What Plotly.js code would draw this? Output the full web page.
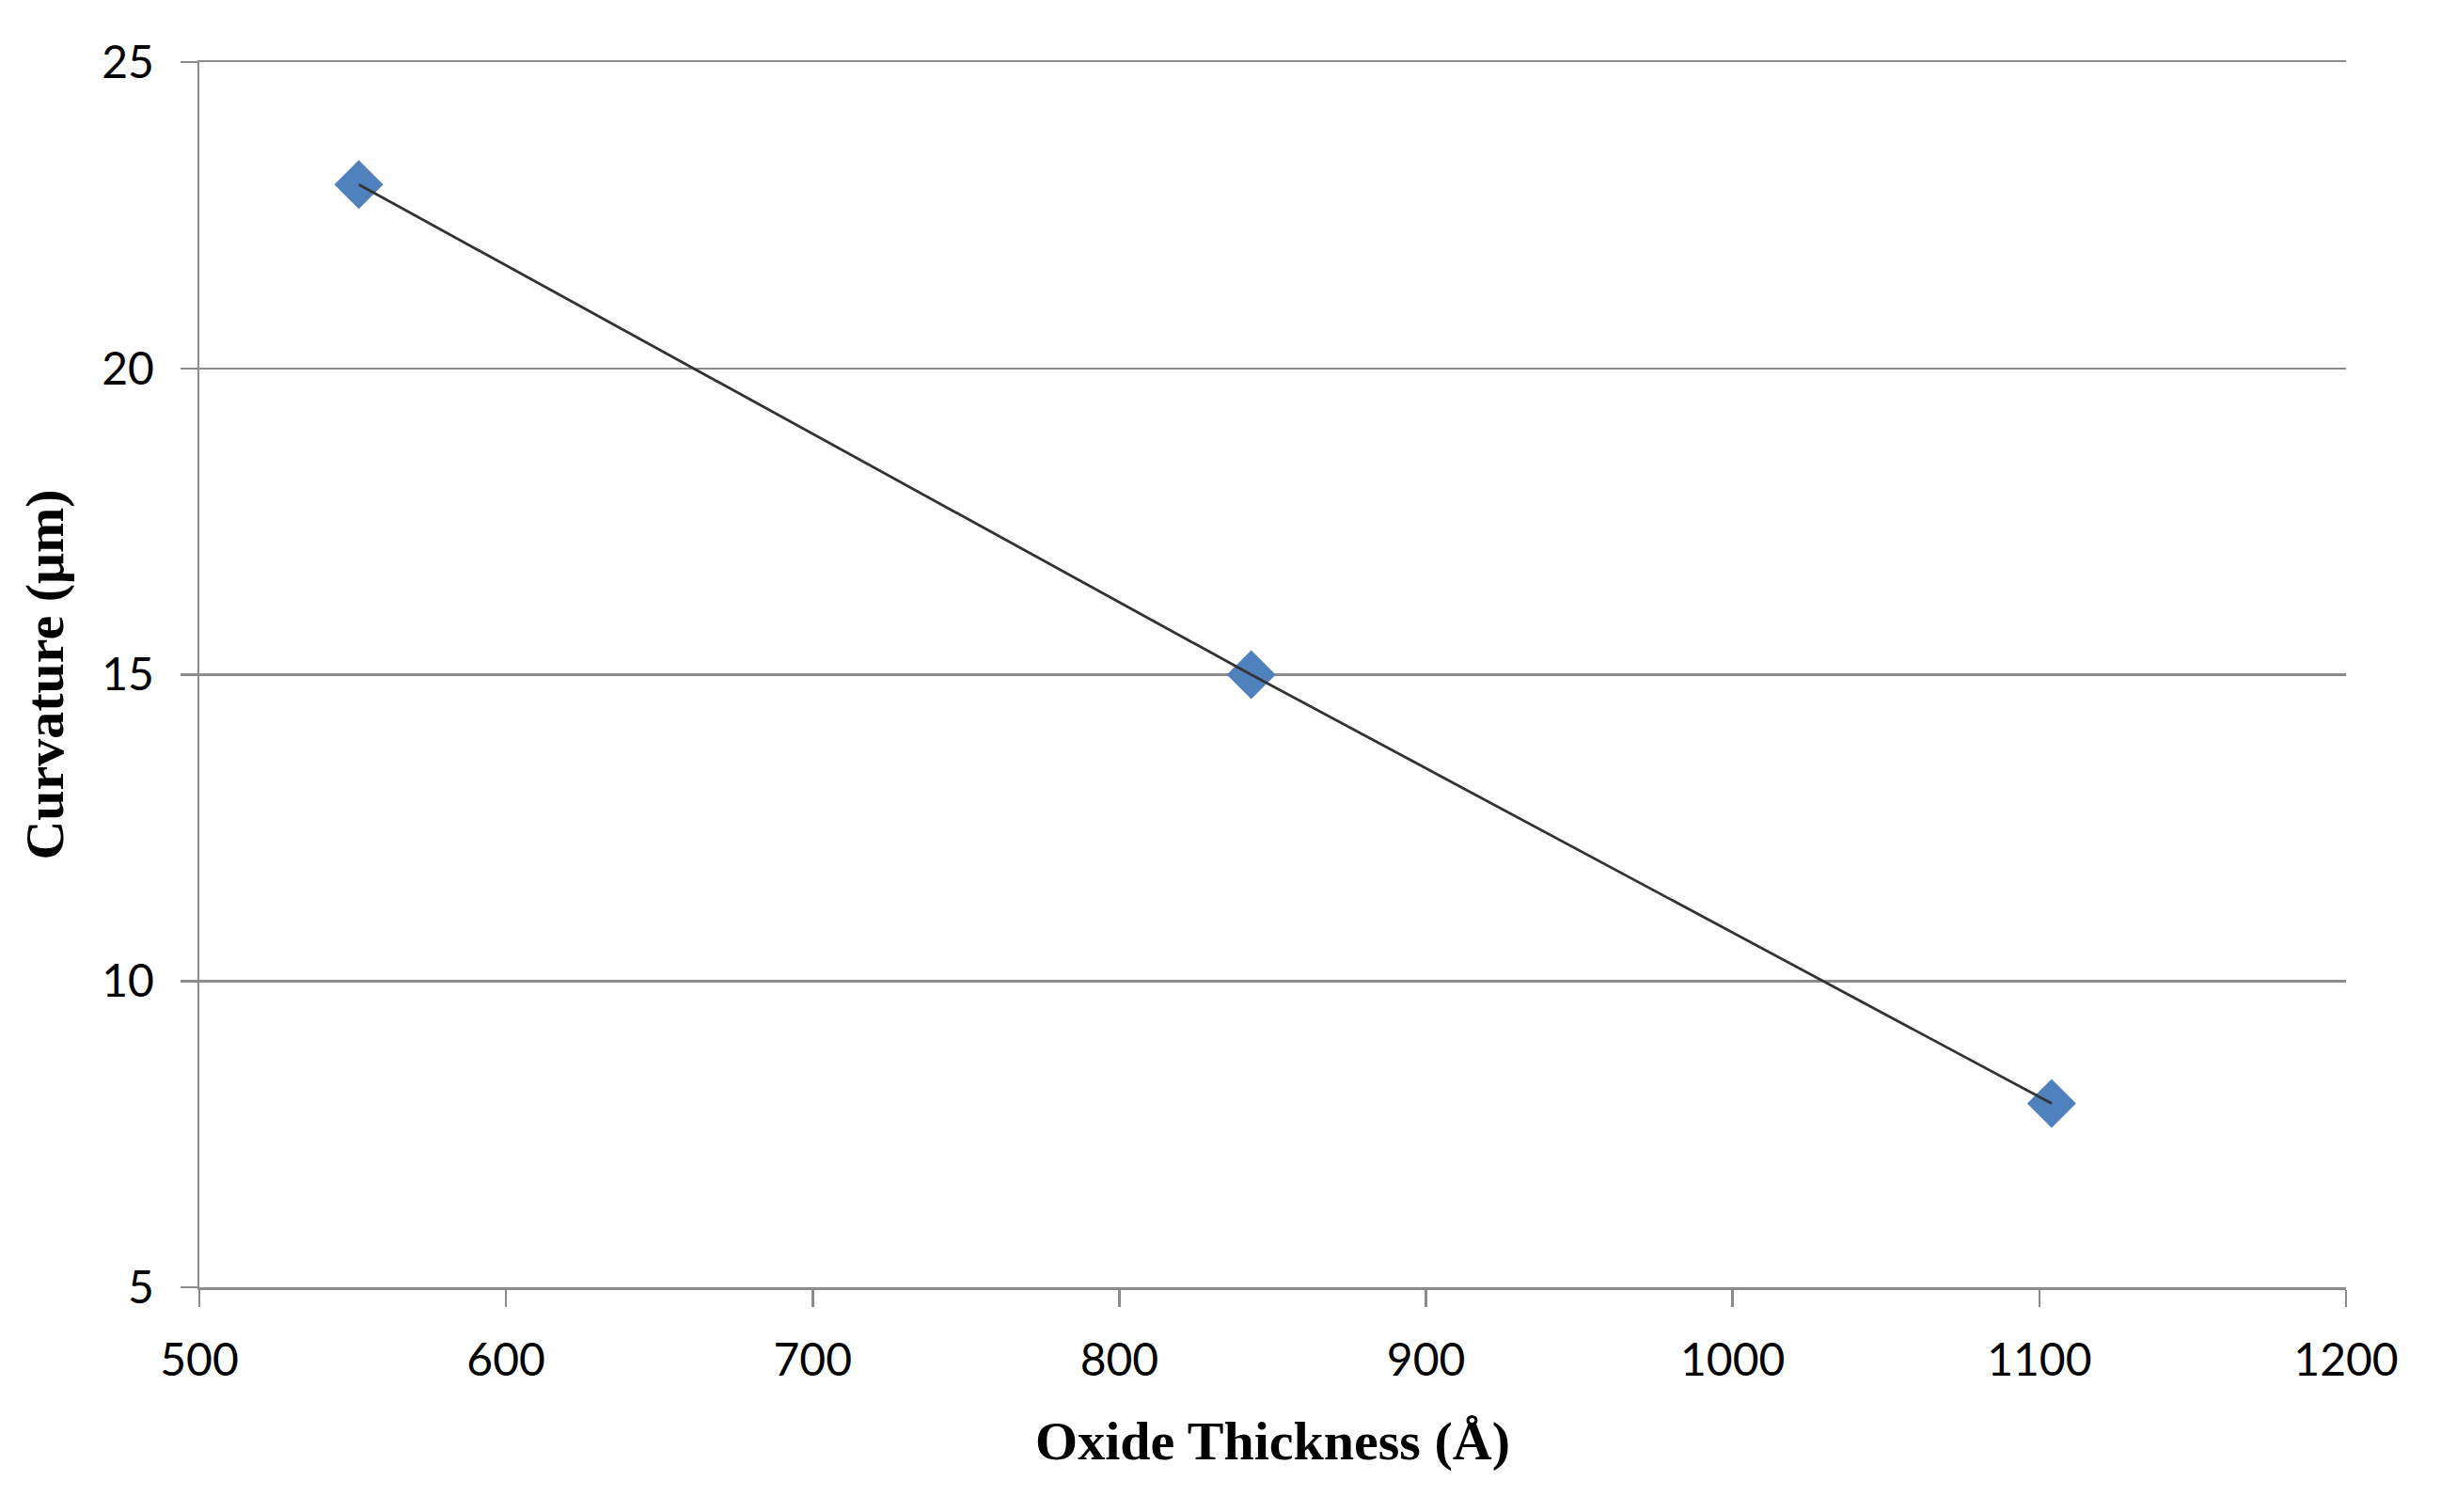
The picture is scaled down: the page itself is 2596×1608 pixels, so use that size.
<!DOCTYPE html>
<html>
<head>
<meta charset="utf-8">
<script src="https://cdn.plot.ly/plotly-3.0.1.min.js"></script>
<style>html,body{margin:0;padding:0;background:#fff;}#chart{width:2596px;height:1608px;}</style>
</head>
<body>
<div id="chart"></div>
<script>
const thickness = [552, 843, 1104];
const curvature = [23, 15, 8];
const xTicks = [500, 600, 700, 800, 900, 1000, 1100, 1200];
const yTicks = [5, 10, 15, 20, 25];

const tickFont = {family: 'Lato, "Open Sans", sans-serif', size: 48, color: '#000'};
const titleFont = {family: '"Liberation Serif", "Times New Roman", serif', size: 58, color: '#000', weight: 'bold'};
const axisGray = '#8c8c8c';

const traces = [
  {
    x: thickness, y: curvature, type: 'scatter', mode: 'markers',
    marker: {symbol: 'diamond', size: 40, color: '#4F81BD', line: {width: 0}},
    hoverinfo: 'x+y', showlegend: false
  },
  {
    x: thickness, y: curvature, type: 'scatter', mode: 'lines',
    xaxis: 'x2', yaxis: 'y',
    line: {color: '#333333', width: 2.8},
    hoverinfo: 'skip', showlegend: false
  }
];

const layout = {
  width: 2596, height: 1608,
  paper_bgcolor: '#fff', plot_bgcolor: '#fff',
  margin: {l: 212, r: 101, t: 66, b: 239},
  showlegend: false,
  xaxis: {
    range: [500, 1200], tickvals: xTicks, ticktext: xTicks.map(String),
    showgrid: false, zeroline: false,
    showline: true, linecolor: axisGray, linewidth: 2.5,
    ticks: 'outside', ticklen: 18, tickwidth: 2.5, tickcolor: axisGray,
    tickfont: tickFont, ticklabelstandoff: 16,
    title: {text: '<b>Oxide Thickness (Å)</b>', font: titleFont, standoff: 40}
  },
  xaxis2: {
    overlaying: 'x', side: 'top', anchor: 'y', range: [500, 1200],
    showgrid: false, zeroline: false, showticklabels: false, ticks: '',
    showline: true, linecolor: axisGray, linewidth: 2.5
  },
  yaxis: {
    range: [5, 25], tickvals: yTicks, ticktext: yTicks.map(String),
    showgrid: true, gridcolor: axisGray, gridwidth: 2.5, zeroline: false,
    showline: true, linecolor: axisGray, linewidth: 2.5,
    ticks: 'outside', ticklen: 18, tickwidth: 2.5, tickcolor: axisGray,
    tickfont: tickFont, ticklabelstandoff: 18,
    title: {text: '<b>Curvature (μm)</b>', font: titleFont, standoff: 22}
  }
};

Plotly.newPlot('chart', traces, layout, {displayModeBar: false, staticPlot: true});
</script>
</body>
</html>
